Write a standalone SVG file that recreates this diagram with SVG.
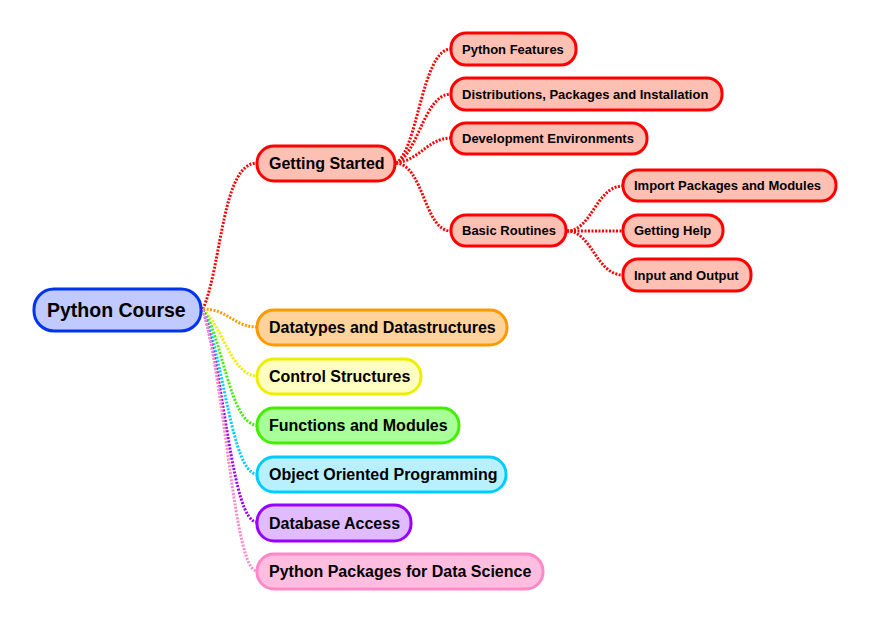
<svg xmlns="http://www.w3.org/2000/svg" width="870" height="623" viewBox="0 0 870 623">
<style>
text{font-family:"Liberation Sans",Arial,sans-serif;font-weight:bold;fill:#000}
.t0{font-size:19.5px}.t1{font-size:16px}.t2{font-size:13px}
rect{stroke-width:3}
.c path{fill:none;stroke-width:3;stroke-dasharray:2 1.5}
.red rect{fill:#ffc0b4;stroke:#ff0000}
</style>
<rect width="870" height="623" fill="#fff"/>
<g class="c" id="connectors">
<path stroke="#ff0000" d="M203,309 C222,265 222,163 257,163"/>
<path stroke="#ff9900" d="M203,309 C228,309 234,327 257,327"/>
<path stroke="#eeee00" d="M203,310 C222,325 232,376 257,376"/>
<path stroke="#44ee00" d="M203,310 C222,335 230,425 257,425"/>
<path stroke="#00ccff" d="M203,310 C224,360 232,474 257,474"/>
<path stroke="#9900ff" d="M203,310 C225,380 232,522 257,522"/>
<path stroke="#ff88c8" d="M203,310 C226,390 234,571 257,571"/>
<path stroke="#ff0000" d="M396,163 C418,150 422,49 451,49"/>
<path stroke="#ff0000" d="M396,163 C418,155 424,94 451,94"/>
<path stroke="#ff0000" d="M396,163 C420,160 428,138 451,138"/>
<path stroke="#ff0000" d="M396,163 C424,165 424,231 451,231"/>
<path stroke="#ff0000" d="M567,231 C592,231 596,186 623,186"/>
<path stroke="#ff0000" d="M567,231 L623,231"/>
<path stroke="#ff0000" d="M567,231 C592,231 596,275 623,275"/>
</g>
<g id="root"><rect x="34" y="289" width="167" height="42" rx="20" fill="#c0caff" stroke="#0033ee"/><text class="t0" x="47" y="317">Python Course</text></g>
<g id="getting-started" class="red"><rect x="257" y="146" width="138" height="35" rx="17"/><text class="t1" x="269" y="169">Getting Started</text></g>
<g id="datatypes"><rect x="257" y="310" width="250" height="35" rx="17" fill="#ffd39a" stroke="#ff9900"/><text class="t1" x="269" y="333">Datatypes and Datastructures</text></g>
<g id="control"><rect x="257" y="359" width="164" height="35" rx="17" fill="#ffffc0" stroke="#eeee00"/><text class="t1" x="269" y="382">Control Structures</text></g>
<g id="functions"><rect x="257" y="408" width="202" height="35" rx="17" fill="#a9ff98" stroke="#44ee00"/><text class="t1" x="269" y="431">Functions and Modules</text></g>
<g id="oop"><rect x="257" y="457" width="249" height="35" rx="17" fill="#b9f0ff" stroke="#00ccff"/><text class="t1" x="269" y="480">Object Oriented Programming</text></g>
<g id="database"><rect x="257" y="505" width="154" height="36" rx="17" fill="#e0bbff" stroke="#9900ff"/><text class="t1" x="269" y="528.7">Database Access</text></g>
<g id="packages"><rect x="257" y="554" width="286" height="35" rx="17" fill="#ffbde0" stroke="#ff88c8"/><text class="t1" x="269" y="577">Python Packages for Data Science</text></g>
<g id="features" class="red"><rect x="451" y="33" width="125" height="32" rx="15"/><text class="t2" x="462" y="53.6">Python Features</text></g>
<g id="distributions" class="red"><rect x="451" y="78" width="271" height="32" rx="15"/><text class="t2" x="462" y="98.6">Distributions, Packages and Installation</text></g>
<g id="development" class="red"><rect x="451" y="123" width="196" height="31" rx="15"/><text class="t2" x="462" y="143.1">Development Environments</text></g>
<g id="basic" class="red"><rect x="451" y="215" width="115" height="31" rx="15"/><text class="t2" x="462" y="235.1">Basic Routines</text></g>
<g id="import" class="red"><rect x="623" y="170" width="213" height="31" rx="15"/><text class="t2" x="634" y="190.1">Import Packages and Modules</text></g>
<g id="help" class="red"><rect x="623" y="215" width="100" height="31" rx="15"/><text class="t2" x="634" y="235.1">Getting Help</text></g>
<g id="io" class="red"><rect x="623" y="259" width="128" height="32" rx="15"/><text class="t2" x="634" y="279.6">Input and Output</text></g>
</svg>
